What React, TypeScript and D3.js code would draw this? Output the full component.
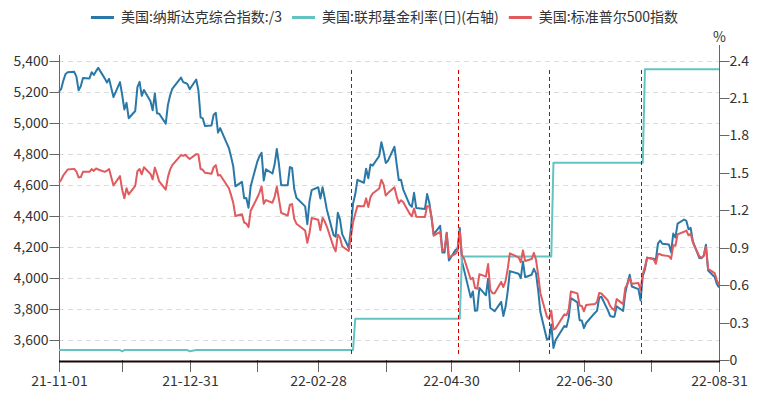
import React, { useRef, useEffect } from 'react';
import * as d3 from 'd3';

// trading days per month (US market), used as x categories
const tradingMonths: [string, string][] = [
    ['2021-11', '1 2 3 4 5 8 9 10 11 12 15 16 17 18 19 22 23 24 26 29 30'],
    ['2021-12', '1 2 3 6 7 8 9 10 13 14 15 16 17 20 21 22 23 27 28 29 30 31'],
    ['2022-01', '3 4 5 6 7 10 11 12 13 14 18 19 20 21 24 25 26 27 28 31'],
    ['2022-02', '1 2 3 4 7 8 9 10 11 14 15 16 17 18 22 23 24 25 28'],
    ['2022-03', '1 2 3 4 7 8 9 10 11 14 15 16 17 18 21 22 23 24 25 28 29 30 31'],
    ['2022-04', '1 4 5 6 7 8 11 12 13 14 18 19 20 21 22 25 26 27 28 29'],
    ['2022-05', '2 3 4 5 6 9 10 11 12 13 16 17 18 19 20 23 24 25 26 27 31'],
    ['2022-06', '1 2 3 6 7 8 9 10 13 14 15 16 17 21 22 23 24 27 28 29 30'],
    ['2022-07', '1 5 6 7 8 11 12 13 14 15 18 19 20 21 22 25 26 27 28 29'],
    ['2022-08', '1 2 3 4 5 8 9 10 11 12 15 16 17 18 19 22 23 24 25 26 29 30 31'],
];

// Nasdaq composite close (plotted /3)
const nasdaq: number[] = [
    15596, 15650, 15812, 15940, 15972, 15982, 15887, 15623, 15704, 15861, 15854, 15974, 15922, 15994, 16057, 15855, 15775, 15845, 15492, 15783, 15538,
    15254, 15381, 15085, 15225, 15687, 15787, 15517, 15631, 15413, 15238, 15566, 15180, 15170, 14981, 15341, 15522, 15653, 15871, 15782, 15766, 15742, 15645,
    15833, 15623, 15100, 15081, 14936, 14943, 15153, 15188, 14807, 14894, 14507, 14340, 14154, 13769, 13855, 13539, 13542, 13353, 13771, 14240,
    14346, 14418, 13879, 14098, 14016, 14194, 14490, 14186, 13791, 13791, 14140, 14124, 13717, 13548, 13382, 13037, 13474, 13695, 13751,
    13532, 13752, 13538, 13313, 12831, 12796, 13256, 13130, 12844, 12581, 12949, 13437, 13615, 13894, 13838, 14109, 13923, 14192, 14169, 14355, 14620, 14442, 14221,
    14262, 14533, 14204, 13889, 13897, 13711, 13412, 13372, 13644, 13351, 13332, 13620, 13453, 13175, 12839, 13005, 12491, 12489, 12872, 12335,
    12536, 12564, 12965, 12318, 12145, 11623, 11738, 11364, 11371, 11805, 11663, 11985, 11418, 11389, 11355, 11535, 11264, 11435, 11741, 12131, 12081,
    11994, 12317, 12013, 12061, 12175, 12086, 11754, 11340, 10809, 10828, 11099, 10646, 10798, 11069, 11053, 11232, 11608, 11525, 11182, 11178, 11029,
    11128, 11322, 11362, 11621, 11635, 11373, 11265, 11248, 11251, 11452, 11360, 11713, 11898, 12060, 11834, 11783, 11563, 12032, 12163, 12391,
    12369, 12349, 12668, 12721, 12658, 12644, 12494, 12855, 12780, 13047, 13128, 13103, 12938, 12965, 12705, 12382, 12381, 12432, 12639, 12142, 12018, 11883, 11816,
];

// S&P 500 close
const sp500: number[] = [
    4614, 4631, 4661, 4680, 4698, 4702, 4685, 4647, 4649, 4683, 4683, 4701, 4689, 4705, 4698, 4683, 4691, 4701, 4595, 4655, 4567,
    4513, 4577, 4538, 4592, 4687, 4701, 4667, 4712, 4669, 4634, 4710, 4669, 4621, 4568, 4649, 4697, 4726, 4791, 4786, 4793, 4779, 4766,
    4797, 4794, 4701, 4696, 4677, 4670, 4713, 4726, 4659, 4663, 4577, 4533, 4483, 4398, 4410, 4356, 4350, 4327, 4432, 4516,
    4547, 4589, 4477, 4501, 4484, 4522, 4587, 4504, 4419, 4402, 4471, 4475, 4380, 4349, 4305, 4226, 4289, 4385, 4374,
    4306, 4387, 4363, 4329, 4201, 4171, 4278, 4260, 4204, 4173, 4262, 4358, 4412, 4463, 4461, 4512, 4456, 4520, 4543, 4576, 4632, 4602, 4530,
    4546, 4583, 4525, 4481, 4500, 4488, 4413, 4397, 4447, 4393, 4392, 4462, 4459, 4394, 4272, 4296, 4175, 4184, 4288, 4132,
    4155, 4175, 4300, 4147, 4123, 3991, 4001, 3935, 3930, 4024, 4008, 4089, 3924, 3901, 3901, 3974, 3941, 3979, 4058, 4158, 4132,
    4101, 4177, 4109, 4121, 4161, 4116, 4018, 3901, 3750, 3735, 3790, 3667, 3675, 3765, 3760, 3796, 3912, 3900, 3822, 3819, 3785,
    3825, 3831, 3845, 3903, 3899, 3854, 3819, 3802, 3790, 3863, 3831, 3937, 3960, 3999, 3962, 3967, 3921, 4024, 4072, 4130,
    4119, 4091, 4155, 4152, 4145, 4140, 4122, 4210, 4207, 4280, 4297, 4305, 4274, 4284, 4228, 4138, 4129, 4141, 4199, 4058, 4031, 3986, 3955,
];

// effective fed funds rate, at the days it changes (right axis, %)
const fedDates = ['2021-11-01', '2021-11-29', '2021-11-30', '2021-12-01', '2021-12-30', '2021-12-31', '2022-01-03', '2022-03-16', '2022-03-17', '2022-05-04', '2022-05-05', '2022-06-15', '2022-06-16', '2022-07-27', '2022-07-28', '2022-08-31'];
const fedRate = [0.08, 0.08, 0.07, 0.08, 0.08, 0.07, 0.08, 0.08, 0.33, 0.33, 0.83, 0.83, 1.58, 1.58, 2.33, 2.33];

// FOMC meeting marks
const fomcDates = ['2022-03-15', '2022-05-03', '2022-06-14', '2022-07-26'];

// x axis: month-end ticks, every other one labelled
const xTickDates = ['2021-11-01', '2021-11-30', '2021-12-31', '2022-01-31', '2022-02-28', '2022-03-31', '2022-04-30', '2022-05-31', '2022-06-30', '2022-07-31', '2022-08-31'];
const xTickLabels = ['21-11-01', '', '21-12-31', '', '22-02-28', '', '22-04-30', '', '22-06-30', '', '22-08-31'];

const leftTicks = [3600, 3800, 4000, 4200, 4400, 4600, 4800, 5000, 5200, 5400];
const rightTicks = [0, 0.3, 0.6, 0.9, 1.2, 1.5, 1.8, 2.1, 2.4];

const seriesNames = ['美国:纳斯达克综合指数:/3', '美国:联邦基金利率(日)(右轴)', '美国:标准普尔500指数'];
const seriesColors = ['#2a78a8', '#62c3c1', '#e05a5e'];

const FONT = "'Microsoft YaHei', 'Noto Sans CJK SC', sans-serif";

const parseDay = d3.utcParse('%Y-%m-%d');

const App: React.FC = () => {
    const svgRef = useRef<SVGSVGElement | null>(null);

    useEffect(() => {
        document.body.style.margin = '0';
        const width = 769;
        const height = 398;
        const left = 59;
        const right = 719;
        const top = 60.5;
        const bottom = 360;

        const svg = d3.select(svgRef.current);
        svg.selectAll('*').remove();
        svg.attr('width', width).attr('height', height)
            .style('font-family', FONT);

        const dates: Date[] = [];
        tradingMonths.forEach(([m, days]) => {
            days.split(' ').forEach(d => dates.push(parseDay(`${m}-${d.padStart(2, '0')}`) as Date));
        });

        const x = d3.scaleUtc()
            .domain([parseDay('2021-11-01') as Date, parseDay('2022-08-31') as Date])
            .range([left, right]);
        const yL = d3.scaleLinear().domain([3471, 5400]).range([bottom, top]);
        const yR = d3.scaleLinear().domain([0, 2.4]).range([bottom, top]);

        // grid lines
        svg.append('g')
            .selectAll('line')
            .data(leftTicks)
            .enter()
            .append('line')
            .attr('x1', left)
            .attr('x2', right)
            .attr('y1', d => Math.round(yL(d)) + 0.5)
            .attr('y2', d => Math.round(yL(d)) + 0.5)
            .style('stroke', '#dcdcdc')
            .style('stroke-dasharray', '5,4');

        // left axis
        const gL = svg.append('g').attr('transform', `translate(${left + 0.5},0)`);
        gL.append('line').attr('y1', 55).attr('y2', bottom).style('stroke', '#666');
        const lt = gL.selectAll('.lt').data(leftTicks).enter().append('g')
            .attr('transform', d => `translate(0,${Math.round(yL(d)) + 0.5})`);
        lt.append('line').attr('x1', -10).attr('x2', 0).style('stroke', '#666');
        lt.append('text')
            .attr('x', -11)
            .attr('dy', '0.35em')
            .attr('text-anchor', 'end')
            .style('font-size', '14px')
            .style('fill', '#333')
            .text(d => d3.format(',')(d));

        // right axis
        const gR = svg.append('g').attr('transform', `translate(${right + 0.5},0)`);
        gR.append('line').attr('y1', 45).attr('y2', bottom).style('stroke', '#666');
        const rt = gR.selectAll('.rt').data(rightTicks).enter().append('g')
            .attr('transform', d => `translate(0,${Math.round(yR(d)) + 0.5})`);
        rt.append('line').attr('x1', 0).attr('x2', 10).style('stroke', '#666');
        rt.append('text')
            .attr('x', 10)
            .attr('dy', '0.35em')
            .style('font-size', '14px')
            .style('fill', '#333')
            .text(d => String(d));
        gR.append('text')
            .attr('x', 0)
            .attr('y', 37)
            .attr('dy', '0.35em')
            .attr('text-anchor', 'middle')
            .style('font-size', '14px')
            .style('fill', '#333')
            .text('%');

        // bottom axis
        const gX = svg.append('g');
        const xt = gX.selectAll('.xt').data(xTickDates).enter().append('g')
            .attr('transform', d => `translate(${Math.round(x(parseDay(d) as Date)) + 0.5},0)`);
        xt.append('line').attr('y1', bottom).attr('y2', 372).style('stroke', '#666');
        xt.append('text')
            .attr('y', 381)
            .attr('dy', '0.35em')
            .attr('text-anchor', 'middle')
            .style('font-size', '14px')
            .style('fill', '#333')
            .text((d, i) => xTickLabels[i]);

        // series lines
        const idxLine = (vals: number[], scale: (v: number) => number) => d3.line<number>()
            .x((d, i) => x(dates[i]))
            .y(d => scale(d))(vals);

        svg.append('path')
            .attr('d', idxLine(nasdaq, v => yL(v / 3)) as string)
            .style('fill', 'none')
            .style('stroke', seriesColors[0])
            .style('stroke-width', 2)
            .style('stroke-linejoin', 'round');

        const fedLine = d3.line<number>()
            .x((d, i) => x(parseDay(fedDates[i]) as Date))
            .y(d => yR(d));
        svg.append('path')
            .attr('d', fedLine(fedRate) as string)
            .style('fill', 'none')
            .style('stroke', seriesColors[1])
            .style('stroke-width', 2)
            .style('stroke-linejoin', 'round');

        svg.append('path')
            .attr('d', idxLine(sp500, v => yL(v)) as string)
            .style('fill', 'none')
            .style('stroke', seriesColors[2])
            .style('stroke-width', 2)
            .style('stroke-linejoin', 'round');

        // x axis base line
        gX.append('line')
            .attr('x1', left)
            .attr('x2', right + 1)
            .attr('y1', bottom + 1.5)
            .attr('y2', bottom + 1.5)
            .style('stroke', '#1a0606')
            .style('stroke-width', 2);

        // FOMC dashed marks
        svg.append('g')
            .selectAll('line')
            .data(fomcDates)
            .enter()
            .append('line')
            .attr('x1', d => Math.round(x(parseDay(d) as Date)) + 0.5)
            .attr('x2', d => Math.round(x(parseDay(d) as Date)) + 0.5)
            .attr('y1', 70)
            .attr('y2', 355)
            .style('stroke', '#d40000')
            .style('stroke-width', 1)
            .style('stroke-dasharray', '4,3');

        // legend
        const legend = svg.append('g');
        let cx = 0;
        seriesNames.forEach((name, i) => {
            const item = legend.append('g').attr('transform', `translate(${cx},0)`);
            item.append('line')
                .attr('x1', 0).attr('x2', 23)
                .attr('y1', 17.5).attr('y2', 17.5)
                .style('stroke', seriesColors[i])
                .style('stroke-width', 3);
            const t = item.append('text')
                .attr('x', 30)
                .attr('y', 17.5)
                .attr('dy', '0.35em')
                .style('font-size', '14px')
                .style('fill', '#333')
                .text(name);
            const w = (t.node() as SVGTextElement).getComputedTextLength();
            cx += 30 + w + 10;
        });
        const total = cx - 10;
        legend.attr('transform', `translate(${(width - total) / 2},0)`);
    }, []);

    return <svg ref={svgRef} style={{ display: 'block' }}></svg>;
};

export default App;
